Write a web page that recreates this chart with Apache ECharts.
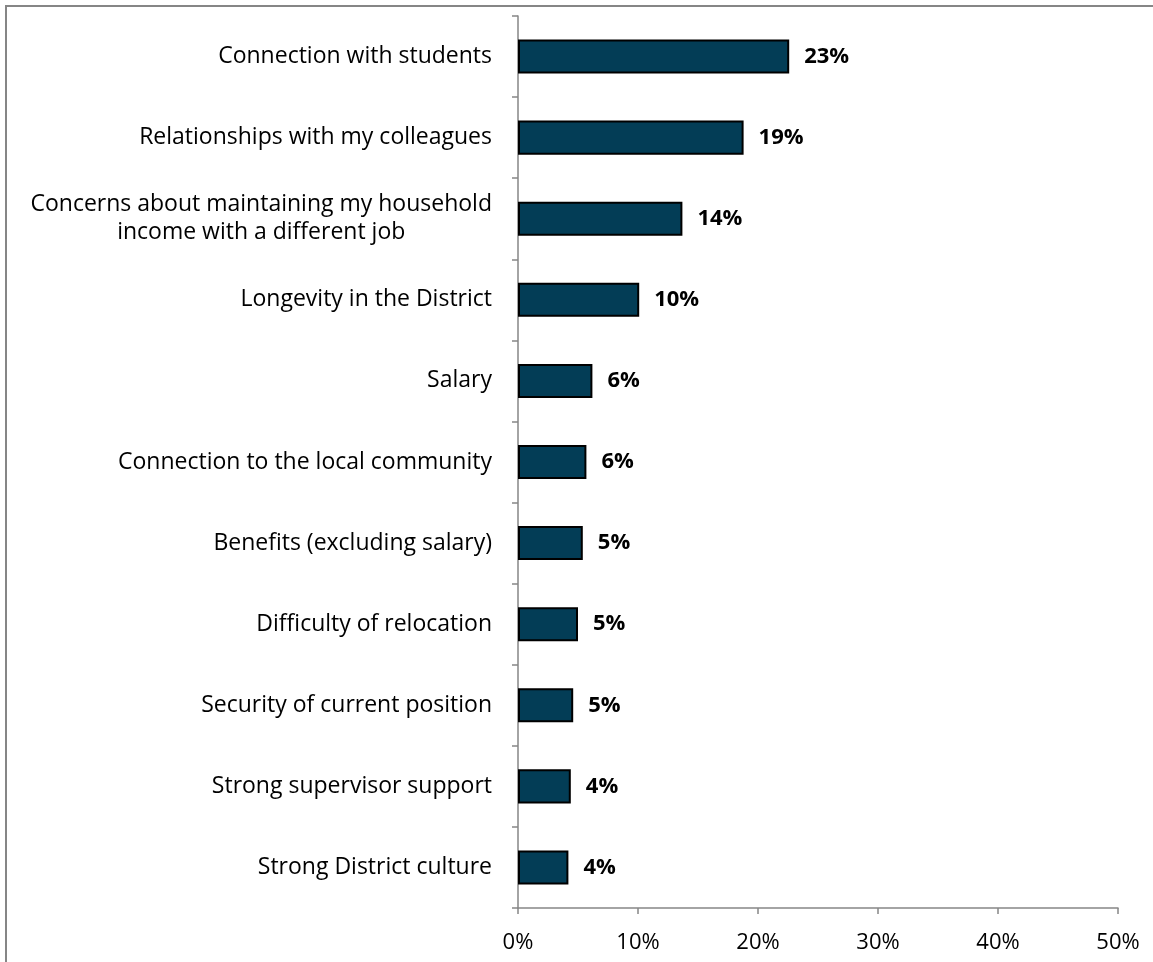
<!DOCTYPE html>
<html>
<head>
<meta charset="utf-8">
<style>
  html, body { margin: 0; padding: 0; background: #fff; }
  #chart { width: 1153px; height: 962px; }
</style>
<script src="https://cdn.jsdelivr.net/npm/echarts@6/dist/echarts.min.js"></script>
</head>
<body>
<div id="chart"></div>
<script>
// Reasons for staying in the District (share of respondents, %)
const categories = [
  'Connection with students',
  'Relationships with my colleagues',
  'Concerns about maintaining my household\nincome with a different job',
  'Longevity in the District',
  'Salary',
  'Connection to the local community',
  'Benefits (excluding salary)',
  'Difficulty of relocation',
  'Security of current position',
  'Strong supervisor support',
  'Strong District culture'
];
const values = [22.6, 18.8, 13.7, 10.1, 6.2, 5.7, 5.4, 5.0, 4.6, 4.4, 4.2];
const xTicks = [0, 10, 20, 30, 40, 50];

const FONT = 'Open Sans';
const FS = 23;
const chart = echarts.init(document.getElementById('chart'));

chart.setOption({
  animation: false,
  backgroundColor: '#ffffff',
  graphic: [{
    type: 'rect',
    shape: { x: 6, y: 6, width: 1160, height: 970 },
    style: { fill: 'none', stroke: '#868686', lineWidth: 2 },
    silent: true
  }],
  grid: { left: 518, right: 35, top: 16, bottom: 54, containLabel: false },
  xAxis: {
    type: 'value',
    min: xTicks[0],
    max: xTicks[xTicks.length - 1],
    interval: 10,
    splitLine: { show: false },
    axisLine: { show: true, lineStyle: { color: '#868686', width: 1.5 } },
    axisTick: { show: true, length: 6, lineStyle: { color: '#868686', width: 1.5 } },
    axisLabel: {
      color: '#000', fontFamily: FONT, fontSize: 22, margin: 24,
      formatter: v => v + '%'
    }
  },
  yAxis: {
    type: 'category',
    inverse: true,
    data: categories,
    axisLine: { show: true, lineStyle: { color: '#868686', width: 1.5 } },
    axisTick: { show: true, length: 6, alignWithLabel: false, lineStyle: { color: '#868686', width: 1.5 } },
    axisLabel: {
      margin: 26,
      align: 'right',
      // each line of a wrapped label is centred within its block
      formatter: v => v.split('\n').map(s => '{c|' + s + '}').join('\n'),
      rich: {
        c: { color: '#000', fontFamily: FONT, fontSize: FS, lineHeight: 28, align: 'center' }
      }
    }
  },
  series: [{
    type: 'bar',
    data: values,
    barWidth: '42%',
    itemStyle: { color: '#033d56', borderColor: '#000', borderWidth: 2 },
    label: {
      show: true,
      position: 'right',
      distance: 15,
      color: '#000',
      fontFamily: FONT,
      fontWeight: 'bold',
      fontSize: 22,
      formatter: p => Math.round(p.value) + '%'
    }
  }]
});
</script>
</body>
</html>
